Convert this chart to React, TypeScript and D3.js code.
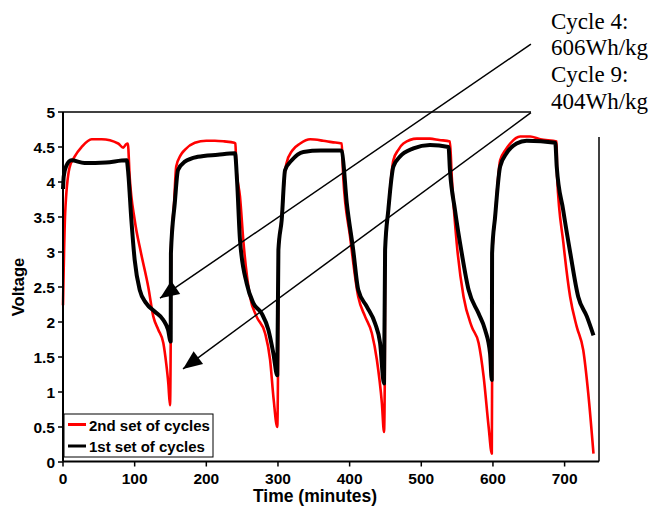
import React from "react";
import * as d3 from "d3";

// ---- data ----
const secondSetTime = [
  0, 3, 9, 16, 26, 40, 54, 77, 84, 88, 90.5, 93, 100, 109, 119, 126, 133, 140, 144, 147, 149.3,
  150.3, 150.6, 155, 158, 164, 170, 184, 200, 212, 225, 239, 240.5,
  242, 247, 252, 261, 270, 282, 289, 294, 299,
  300, 300.6, 305, 310, 312, 320, 331, 345, 363, 375, 389,
  391, 400.6, 412, 421.5, 431, 438, 445, 448,
  449, 449.5, 454, 461, 468, 475, 494, 512, 525, 540,
  542.5, 549.5, 559, 570.5, 580, 587, 594, 598.4,
  598.8, 599.2, 603, 610, 617, 624, 638, 652, 666, 689,
  689.5, 698.4, 707.7, 717, 726, 733, 740.3,
];
const secondSetVoltage = [
  2.24, 3.55, 4.2, 4.36, 4.5, 4.61, 4.61, 4.55, 4.49, 4.54, 4.55, 4.08, 3.46, 2.98, 2.5, 2.08, 1.89, 1.7, 1.41, 1.12, 0.81,
  1.72, 3.0, 3.7, 4.22, 4.38, 4.46, 4.56, 4.59, 4.59, 4.58, 4.56, 4.55,
  4.2, 3.79, 3.12, 2.36, 2.08, 1.84, 1.46, 0.89, 0.5,
  1.24, 3.03, 3.46, 4.17, 4.27, 4.45, 4.55, 4.61, 4.59, 4.57, 4.55,
  4.08, 3.22, 2.36, 2.08, 1.84, 1.46, 0.84, 0.43,
  1.1, 3.03, 3.6, 4.31, 4.46, 4.55, 4.62, 4.62, 4.6, 4.58,
  4.08, 3.12, 2.36, 1.93, 1.7, 1.22, 0.5, 0.12,
  1.17, 2.98, 3.5, 4.31, 4.45, 4.55, 4.65, 4.65, 4.61, 4.58,
  4.08, 3.12, 2.36, 1.93, 1.6, 0.98, 0.12,
];
const firstSetTime = [
  0, 1, 4.6, 11.6, 30, 60, 89,
  90.7, 95.4, 100, 107, 116, 128, 140, 146.6, 150.3,
  150.6, 156, 160.5, 170, 188, 216, 240,
  243, 247, 256.4, 265.6, 277.4, 286.6, 293.6, 299,
  300.6, 305.2, 309.9, 319.2, 335.4, 360, 387,
  389, 396, 405, 412, 424, 435.5, 442.5, 448,
  449.5, 454, 461, 470, 489, 512, 538,
  540, 547, 556.5, 566, 580, 589, 596, 598.4,
  598.8, 603, 610, 619, 633, 647, 687,
  689, 698, 708, 719, 731, 740.3,
];
const firstSetVoltage = [
  3.9, 4.08, 4.23, 4.31, 4.27, 4.28, 4.31,
  4.17, 3.46, 2.89, 2.46, 2.27, 2.15, 2.03, 1.89, 1.72,
  2.98, 3.7, 4.17, 4.29, 4.36, 4.39, 4.41,
  4.0, 3.17, 2.55, 2.27, 2.12, 1.89, 1.55, 1.24,
  3.03, 3.46, 4.17, 4.31, 4.43, 4.45, 4.45,
  4.44, 3.7, 3.03, 2.46, 2.22, 1.98, 1.7, 1.12,
  3.03, 3.6, 4.22, 4.36, 4.48, 4.53, 4.5,
  4.17, 3.6, 2.98, 2.46, 2.12, 1.89, 1.55, 1.17,
  2.98, 3.5, 4.22, 4.41, 4.55, 4.59, 4.56,
  4.22, 3.6, 2.98, 2.36, 2.08, 1.81,
];

const seriesNames = ["2nd set of cycles", "1st set of cycles"];
const seriesColors = ["#ff0000", "#000000"];
const xTicks = [0, 100, 200, 300, 400, 500, 600, 700];
const yTicks = [0, 0.5, 1, 1.5, 2, 2.5, 3, 3.5, 4, 4.5, 5];
const annotationLines = ["Cycle 4:", "606Wh/kg", "Cycle 9:", "404Wh/kg"];
// arrow start/end in data units (time, voltage)
const arrowStarts = [[653, 5.97], [653, 4.99]];
const arrowEnds = [[135.4, 2.34], [167.5, 1.33]];

const W = 650;
const H = 506;
const plot = { left: 63, right: 599, top: 112, bottom: 462 };

export default function App() {
  const x = d3.scaleLinear().domain([0, 748]).range([plot.left, plot.right]);
  const y = d3.scaleLinear().domain([0, 5]).range([plot.bottom, plot.top]);
  const line = d3
    .line<[number, number]>()
    .x((d) => x(d[0]))
    .y((d) => y(d[1]))
    .curve(d3.curveMonotoneX);

  const red = secondSetTime.map((t, i) => [t, secondSetVoltage[i]] as [number, number]);
  const black = firstSetTime.map((t, i) => [t, firstSetVoltage[i]] as [number, number]);

  const axisY = 461.5;
  const boxLeft = 531;
  const boxBottom = 137;
  const bold = "'Liberation Sans', Arial, sans-serif";
  const serif = "'Liberation Serif', 'Times New Roman', serif";

  return (
    <svg
      width={W}
      height={H}
      style={{ position: "absolute", left: 0, top: 0, background: "#fff" }}
    >
      <defs>
        <marker
          id="arrowHead"
          markerUnits="userSpaceOnUse"
          markerWidth={24}
          markerHeight={20}
          refX={0}
          refY={0}
          viewBox="-21 -10 24 20"
          orient="auto"
        >
          <path d="M0,0 L-19,-8 L-19,8 Z" fill="#000" />
        </marker>
      </defs>
      <rect x={0} y={0} width={W} height={H} fill="#fff" />

      {/* frame (top and right) partly hidden by the annotation box */}
      <line x1={plot.left} x2={boxLeft} y1={plot.top} y2={plot.top} stroke="#000" strokeWidth={1.5} />
      <line x1={plot.right} x2={plot.right} y1={boxBottom} y2={axisY} stroke="#000" strokeWidth={1.5} />

      {/* series */}
      <path d={line(red) || ""} fill="none" stroke={seriesColors[0]} strokeWidth={2.6} strokeLinejoin="round" />
      <path d={line(black) || ""} fill="none" stroke={seriesColors[1]} strokeWidth={4} strokeLinejoin="round" />

      {/* axes */}
      <line x1={plot.left} x2={plot.left} y1={plot.top} y2={axisY} stroke="#000" strokeWidth={2} />
      <line x1={plot.left} x2={plot.right} y1={axisY} y2={axisY} stroke="#000" strokeWidth={2} />
      {yTicks.map((v) => (
        <g key={"y" + v}>
          <line x1={plot.left - 5} x2={plot.left} y1={y(v)} y2={y(v)} stroke="#000" strokeWidth={1.5} />
          <text
            x={55}
            y={y(v)}
            dy="0.36em"
            textAnchor="end"
            fontFamily={bold}
            fontWeight="bold"
            fontSize={15.5}
          >
            {String(v)}
          </text>
        </g>
      ))}
      {xTicks.map((v) => (
        <g key={"x" + v}>
          <line x1={x(v)} x2={x(v)} y1={axisY} y2={axisY + 5} stroke="#000" strokeWidth={1.5} />
          <text
            x={x(v)}
            y={483.5}
            textAnchor="middle"
            fontFamily={bold}
            fontWeight="bold"
            fontSize={15.5}
          >
            {String(v)}
          </text>
        </g>
      ))}
      <text
        x={315}
        y={501.5}
        textAnchor="middle"
        fontFamily={bold}
        fontWeight="bold"
        fontSize={17.5}
      >
        Time (minutes)
      </text>
      <text
        transform={`translate(24, ${(plot.top + plot.bottom) / 2}) rotate(-90)`}
        textAnchor="middle"
        fontFamily={bold}
        fontWeight="bold"
        fontSize={16.5}
      >
        Voltage
      </text>

      {/* legend */}
      <rect x={64} y={414} width={149} height={43} fill="#fff" stroke="#000" strokeWidth={1} />
      {seriesNames.map((name, i) => (
        <g key={name}>
          <line
            x1={68}
            x2={86}
            y1={424.5 + i * 21.5}
            y2={424.5 + i * 21.5}
            stroke={seriesColors[i]}
            strokeWidth={3}
          />
          <text x={89} y={430.5 + i * 21.5} fontFamily={bold} fontWeight="bold" fontSize={15}>
            {name}
          </text>
        </g>
      ))}

      {/* annotation */}
      {annotationLines.map((s, i) => (
        <text key={s} x={551} y={28.5 + i * 26.7} fontFamily={serif} fontSize={23} fill="#000">
          {s}
        </text>
      ))}
      {arrowStarts.map((s, i) => (
        <line
          key={"a" + i}
          x1={x(s[0])}
          y1={y(s[1])}
          x2={x(arrowEnds[i][0])}
          y2={y(arrowEnds[i][1])}
          stroke="#000"
          strokeWidth={1.5}
          markerEnd="url(#arrowHead)"
        />
      ))}
    </svg>
  );
}
